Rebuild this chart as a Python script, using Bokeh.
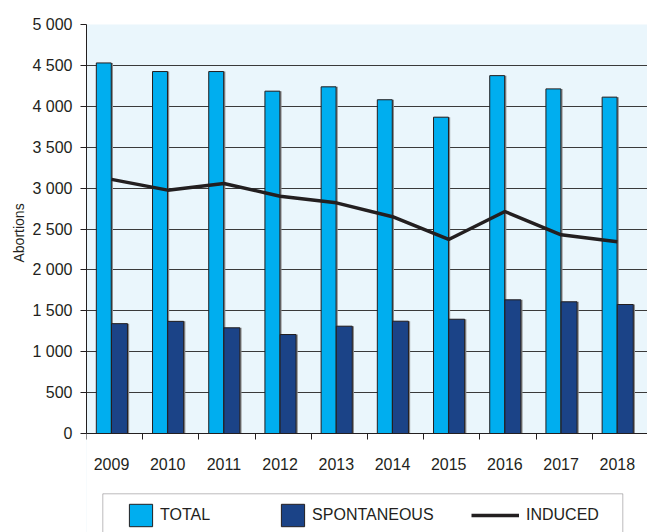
from bokeh.plotting import figure
from bokeh.models import (Range1d, FixedTicker, Legend, LegendItem, ColumnDataSource,
                          BoxAnnotation, Title)
from bokeh.transform import dodge
from bokeh.embed import file_html
from bokeh.resources import INLINE

years = [2009, 2010, 2011, 2012, 2013, 2014, 2015, 2016, 2017, 2018]
total = [4530, 4425, 4425, 4185, 4238, 4080, 3867, 4375, 4213, 4112]
spontaneous = [1343, 1371, 1292, 1210, 1312, 1373, 1397, 1634, 1610, 1577]
induced = [3107, 2975, 3056, 2901, 2820, 2650, 2372, 2714, 2429, 2343]
y_ticks = [0, 500, 1000, 1500, 2000, 2500, 3000, 3500, 4000, 4500, 5000]
y_tick_labels = ["0", "500", "1 000", "1 500", "2 000", "2 500", "3 000",
                 "3 500", "4 000", "4 500", "5 000"]
x_tick_labels = [str(y) for y in years]

FONT = "Liberation Sans"
TXT = "#231F20"
C_TOTAL = "#00AEEF"
C_SPONT = "#1B4387"

src = ColumnDataSource(dict(year=years, total=total, spont=spontaneous, induced=induced))

W, H = 647, 532
LEFT, TOP = 86, 24
px_per_unit = 56.2
x0 = years[0] - 25 / px_per_unit
x1 = x0 + (W - LEFT) / px_per_unit
py_per_unit = 409 / 5000
y1 = 5000
y0 = y1 - (H - TOP) / py_per_unit

p = figure(width=W, height=H, output_backend="svg", toolbar_location=None,
           x_range=Range1d(x0, x1), y_range=Range1d(y0, y1),
           min_border_left=LEFT, min_border_right=0, min_border_top=TOP, min_border_bottom=0)
p.background_fill_color = "#EAF6FC"
p.border_fill_color = "white"
p.outline_line_color = None

# white area below the zero line (outside the chart area)
p.add_layout(BoxAnnotation(top=0, fill_color="white", fill_alpha=1.0, line_color=None,
                           level="underlay"))

bw_t = 0.266
bw_s = 0.284
# shadows
p.vbar(x=dodge("year", -0.137 + 0.03, range=p.x_range), top="total", width=bw_t, bottom=0,
       source=src, fill_color="#8a8a8a", line_color=None)
p.vbar(x=dodge("year", 0.142 + 0.03, range=p.x_range), top="spont", width=bw_s, bottom=0,
       source=src, fill_color="#8a8a8a", line_color=None)
r_total = p.vbar(x=dodge("year", -0.137, range=p.x_range), top="total", width=bw_t, bottom=0,
                 source=src, fill_color=C_TOTAL, line_color=TXT, line_width=1)
r_spont = p.vbar(x=dodge("year", 0.142, range=p.x_range), top="spont", width=bw_s, bottom=0,
                 source=src, fill_color=C_SPONT, line_color=TXT, line_width=1)
r_ind = p.line(x="year", y="induced", source=src, line_color=TXT, line_width=3.5)

# grid
p.xgrid.visible = False
p.ygrid.ticker = FixedTicker(ticks=y_ticks)
p.ygrid.grid_line_color = "#3a3a3a"
p.ygrid.grid_line_width = 1.2

# y axis
ya = p.yaxis[0]
ya.ticker = FixedTicker(ticks=y_ticks)
ya.bounds = (0, 5000)
ya.major_label_overrides = {t: l for t, l in zip(y_ticks, y_tick_labels)}
ya.major_label_text_font = FONT
ya.major_label_text_font_size = "16px"
ya.major_label_text_color = TXT
ya.major_tick_out = 6
ya.major_tick_in = 0
ya.minor_tick_out = 0
ya.minor_tick_in = 0
ya.major_label_standoff = 8
ya.axis_line_color = TXT
ya.major_tick_line_color = TXT

# y axis title, placed along the 0-5000 span
p.add_layout(Title(text="Abortions", align="left", offset=270, standoff=6,
                   text_font=FONT, text_font_size="14px", text_font_style="normal",
                   text_color=TXT), "left")

# x axis, pinned at zero inside the frame
xa = p.xaxis[0]
xa.fixed_location = 0
boundaries = [y - 25 / px_per_unit for y in years] + [years[-1] + 1 - 25 / px_per_unit]
xa.ticker = FixedTicker(ticks=years, minor_ticks=boundaries)
xa.major_label_overrides = {y: l for y, l in zip(years, x_tick_labels)}
xa.major_label_text_font = FONT
xa.major_label_text_font_size = "16px"
xa.major_label_text_color = TXT
xa.major_tick_out = 0
xa.major_tick_in = 0
xa.minor_tick_out = 6
xa.minor_tick_in = 0
xa.minor_tick_line_color = TXT
xa.major_label_standoff = 18
xa.axis_line_color = TXT

# legend frame
box = BoxAnnotation(left=102.3, right=622.3, top=493.3, bottom=560,
                    left_units="canvas", right_units="canvas",
                    top_units="canvas", bottom_units="canvas",
                    fill_color="white", fill_alpha=1.0, line_color=TXT, line_width=1,
                    level="annotation")
p.add_layout(box)

leg_a = Legend(items=[LegendItem(label="TOTAL", renderers=[r_total]),
                      LegendItem(label="SPONTANEOUS", renderers=[r_spont])],
               orientation="horizontal", location=(40, 3),
               glyph_width=29, glyph_height=28, label_standoff=5, spacing=68,
               padding=0, margin=0, border_line_alpha=0, background_fill_alpha=0,
               label_text_font=FONT, label_text_font_size="16px", label_text_color=TXT)
leg_b = Legend(items=[LegendItem(label="INDUCED", renderers=[r_ind])],
               orientation="horizontal", location=(385, 3),
               glyph_width=48, glyph_height=28, label_standoff=7,
               padding=0, margin=0, border_line_alpha=0, background_fill_alpha=0,
               label_text_font=FONT, label_text_font_size="16px", label_text_color=TXT)
p.add_layout(leg_a, "center")
p.add_layout(leg_b, "center")

open("out.html", "w").write(file_html(p, INLINE))
